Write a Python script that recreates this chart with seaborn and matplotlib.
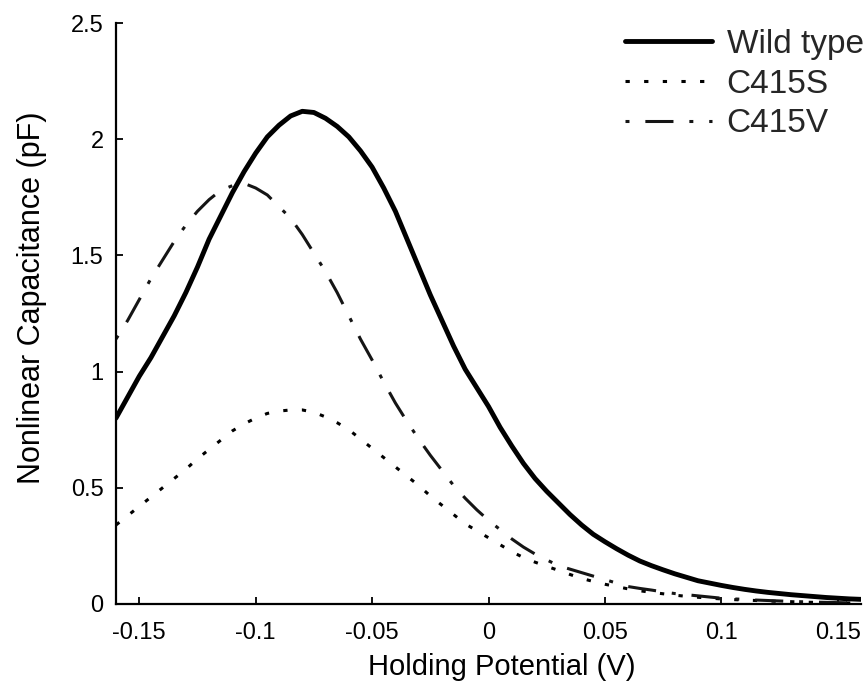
import matplotlib
matplotlib.use("Agg")
import matplotlib.pyplot as plt
import pandas as pd
import seaborn as sns

# ---- data (step 0.005 V) ----
voltage = [-0.160, -0.155, -0.150, -0.145, -0.140, -0.135, -0.130, -0.125, -0.120, -0.115,
           -0.110, -0.105, -0.100, -0.095, -0.090, -0.085, -0.080, -0.075, -0.070, -0.065,
           -0.060, -0.055, -0.050, -0.045, -0.040, -0.035, -0.030, -0.025, -0.020, -0.015,
           -0.010, -0.005, 0.000, 0.005, 0.010, 0.015, 0.020, 0.025, 0.030, 0.035,
           0.040, 0.045, 0.050, 0.055, 0.060, 0.065, 0.070, 0.075, 0.080, 0.085,
           0.090, 0.095, 0.100, 0.105, 0.110, 0.115, 0.120, 0.125, 0.130, 0.135,
           0.140, 0.145, 0.150, 0.155, 0.160]
wild_type = [0.80, 0.89, 0.98, 1.06, 1.15, 1.24, 1.34, 1.45, 1.57, 1.67,
             1.77, 1.86, 1.94, 2.01, 2.06, 2.10, 2.12, 2.115, 2.09, 2.055,
             2.01, 1.95, 1.88, 1.79, 1.69, 1.57, 1.45, 1.33, 1.22, 1.11,
             1.01, 0.93, 0.85, 0.76, 0.68, 0.605, 0.54, 0.485, 0.435, 0.385,
             0.34, 0.30, 0.268, 0.238, 0.21, 0.185, 0.165, 0.147, 0.13, 0.115,
             0.10, 0.09, 0.08, 0.071, 0.063, 0.056, 0.05, 0.045, 0.04, 0.036,
             0.032, 0.028, 0.025, 0.022, 0.02]
c415s = [0.34, 0.38, 0.42, 0.46, 0.50, 0.54, 0.58, 0.625, 0.665, 0.705,
         0.745, 0.775, 0.80, 0.82, 0.83, 0.835, 0.835, 0.825, 0.805, 0.78,
         0.75, 0.71, 0.67, 0.63, 0.59, 0.55, 0.51, 0.465, 0.425, 0.385,
         0.345, 0.315, 0.285, 0.255, 0.225, 0.20, 0.18, 0.162, 0.145, 0.127,
         0.11, 0.097, 0.085, 0.075, 0.065, 0.057, 0.05, 0.044, 0.038, 0.033,
         0.029, 0.025, 0.022, 0.019, 0.017, 0.015, 0.013, 0.011, 0.01, 0.008,
         0.007, 0.006, 0.005, 0.0045, 0.004]
c415v = [1.14, 1.22, 1.31, 1.40, 1.48, 1.56, 1.63, 1.69, 1.74, 1.78,
         1.80, 1.81, 1.79, 1.76, 1.71, 1.66, 1.59, 1.51, 1.43, 1.34,
         1.24, 1.14, 1.05, 0.955, 0.865, 0.785, 0.71, 0.64, 0.575, 0.51,
         0.455, 0.405, 0.36, 0.32, 0.28, 0.245, 0.215, 0.19, 0.165, 0.15,
         0.135, 0.12, 0.105, 0.09, 0.075, 0.067, 0.06, 0.052, 0.045, 0.04,
         0.035, 0.03, 0.025, 0.022, 0.02, 0.017, 0.015, 0.013, 0.011, 0.0095,
         0.008, 0.007, 0.006, 0.005, 0.004]
series_names = ["Wild type", "C415S", "C415V"]
xtick_vals = [-0.15, -0.1, -0.05, 0, 0.05, 0.1, 0.15]
xtick_labels = ["-0.15", "-0.1", "-0.05", "0", "0.05", "0.1", "0.15"]
ytick_vals = [0, 0.5, 1, 1.5, 2, 2.5]
ytick_labels = ["0", "0.5", "1", "1.5", "2", "2.5"]

sns.set_style("ticks")
plt.rcParams["font.family"] = ["Liberation Sans", "DejaVu Sans"]
plt.rcParams["axes.unicode_minus"] = False

n = len(voltage)
df = pd.DataFrame({
    "V": voltage * 3,
    "C": wild_type + c415s + c415v,
    "Series": [series_names[0]] * n + [series_names[1]] * n + [series_names[2]] * n,
})

fig = plt.figure(figsize=(8.66, 6.98), dpi=100)
ax = fig.add_axes([116 / 866, 1 - 604 / 698, (861 - 116) / 866, (604 - 23) / 698])

styles = {
    "Wild type": dict(lw=3.5, ls="-", color="black"),
    "C415S": dict(lw=2.2, ls=(0, (1.4, 4.7)), color="black"),
    "C415V": dict(lw=2.2, ls=(0, (1.3, 5.2, 9.2, 5.2)), color="#151515"),
}
for name in series_names:
    sub = df[df["Series"] == name]
    st = styles[name]
    sns.lineplot(data=sub, x="V", y="C", ax=ax, color=st["color"],
                 linewidth=st["lw"], linestyle=st["ls"], label=name,
                 estimator=None, sort=False)

ax.set_xlim(-0.16, 0.16)
ax.set_ylim(0, 2.5)
ax.set_xticks(xtick_vals)
ax.set_xticklabels(xtick_labels)
ax.set_yticks(ytick_vals)
ax.set_yticklabels(ytick_labels)
ax.tick_params(direction="in", length=5, width=1.3, color="black",
               labelsize=17, labelcolor="black")
ax.tick_params(axis="y", pad=9)
ax.tick_params(axis="x", pad=13)
for s in ["top", "right"]:
    ax.spines[s].set_visible(False)
for s in ["left", "bottom"]:
    ax.spines[s].set_linewidth(1.6)
    ax.spines[s].set_color("black")

ax.set_xlabel("Holding Potential (V)", size=21, color="black")
ax.set_ylabel("Nonlinear Capacitance (pF)", size=22, color="black")
ax.xaxis.set_label_coords(0.518, -0.084)
ax.yaxis.set_label_coords(-0.092, 0.527)

leg = ax.legend(loc="upper left", bbox_to_anchor=(625 / 866, 1 - 29 / 698),
                bbox_transform=fig.transFigure, frameon=False,
                prop=dict(family="Liberation Sans", size=24),
                handlelength=2.6, handletextpad=0.45, labelspacing=0.26,
                borderpad=0, borderaxespad=0)

fig.savefig("out.png", dpi=100)
